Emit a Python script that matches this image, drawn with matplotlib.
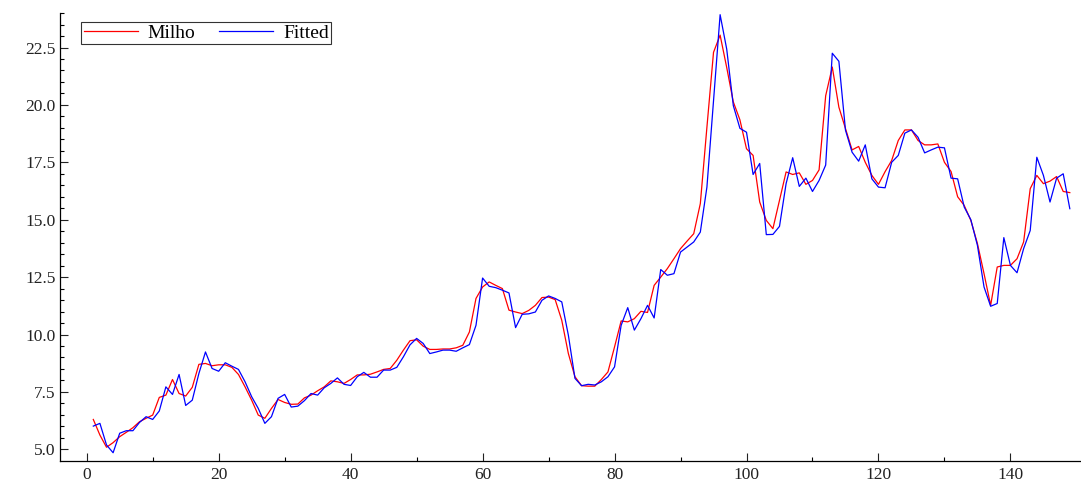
import matplotlib.pyplot as plt
import numpy as np

# observation index
t = np.arange(1, 150)

# observed series (red)
milho = [6.30, 5.62, 5.09, 5.29, 5.55, 5.74, 5.94, 6.20, 6.35, 6.49,
         7.26, 7.36, 8.04, 7.43, 7.32, 7.70, 8.70, 8.74, 8.64, 8.68,
         8.68, 8.57, 8.26, 7.72, 7.14, 6.49, 6.35, 6.78, 7.17, 7.04,
         6.96, 6.97, 7.24, 7.36, 7.55, 7.72, 7.98, 7.94, 7.87, 8.04,
         8.24, 8.24, 8.27, 8.37, 8.48, 8.52, 8.88, 9.32, 9.73, 9.77,
         9.49, 9.35, 9.35, 9.37, 9.37, 9.42, 9.53, 10.11, 11.57, 12.07,
         12.29, 12.14, 12.00, 11.06, 10.98, 10.91, 11.05, 11.27, 11.61, 11.63,
         11.52, 10.62, 9.17, 8.16, 7.77, 7.75, 7.75, 8.04, 8.37, 9.46,
         10.59, 10.55, 10.69, 11.01, 10.96, 12.14, 12.50, 12.87, 13.30, 13.74,
         14.07, 14.39, 15.70, 19.03, 22.29, 23.04, 21.63, 20.13, 19.35, 18.09,
         17.80, 15.77, 14.97, 14.61, 15.84, 17.08, 16.97, 17.04, 16.54, 16.71,
         17.17, 20.40, 21.65, 19.90, 18.97, 18.04, 18.19, 17.50, 16.93, 16.54,
         17.09, 17.58, 18.45, 18.91, 18.91, 18.45, 18.26, 18.26, 18.30, 17.50,
         17.10, 16.00, 15.62, 14.97, 13.96, 12.65, 11.27, 12.94, 13.01, 13.01,
         13.30, 14.03, 16.35, 16.93, 16.57, 16.68, 16.88, 16.23, 16.18]

# fitted values (blue)
fitted = [6.01, 6.13, 5.19, 4.85, 5.70, 5.81, 5.81, 6.17, 6.42, 6.30,
          6.67, 7.72, 7.39, 8.26, 6.91, 7.14, 8.30, 9.24, 8.52, 8.40,
          8.77, 8.62, 8.48, 7.94, 7.29, 6.78, 6.13, 6.42, 7.22, 7.39,
          6.84, 6.88, 7.12, 7.43, 7.36, 7.68, 7.87, 8.11, 7.83, 7.78,
          8.16, 8.35, 8.14, 8.14, 8.45, 8.45, 8.57, 9.03, 9.55, 9.83,
          9.61, 9.17, 9.24, 9.32, 9.32, 9.27, 9.42, 9.56, 10.40, 12.46,
          12.10, 12.04, 11.93, 11.81, 10.30, 10.88, 10.90, 10.98, 11.49, 11.68,
          11.57, 11.42, 9.97, 8.09, 7.77, 7.83, 7.80, 7.94, 8.16, 8.59,
          10.40, 11.17, 10.19, 10.69, 11.27, 10.72, 12.83, 12.58, 12.65, 13.59,
          13.81, 14.03, 14.46, 16.42, 20.19, 23.93, 22.43, 19.97, 18.98, 18.81,
          16.97, 17.45, 14.35, 14.36, 14.71, 16.57, 17.70, 16.45, 16.81, 16.23,
          16.71, 17.38, 22.25, 21.90, 18.90, 17.94, 17.55, 18.26, 16.78, 16.42,
          16.39, 17.50, 17.80, 18.77, 18.91, 18.59, 17.91, 18.04, 18.16, 18.13,
          16.81, 16.78, 15.55, 15.00, 13.88, 12.07, 11.23, 11.35, 14.22, 13.01,
          12.69, 13.74, 14.53, 17.72, 16.93, 15.77, 16.81, 17.00, 15.48]

plt.rcParams['font.family'] = ['Liberation Serif', 'DejaVu Serif']

fig = plt.figure(figsize=(10.81, 4.84), dpi=100)
ax = fig.add_axes([0.0558, 0.0475, 0.943, 0.9255])

ax.plot(t, milho, color='#ff0000', lw=0.9, label='Milho')
ax.plot(t, fitted, color='#0000ff', lw=0.9, label='Fitted')

ax.set_xlim(-4, 150.5)
ax.set_ylim(4.49, 24.0)
ax.set_xticks(np.arange(0, 141, 20))
ax.set_xticks(np.arange(0, 150, 10), minor=True)
ax.set_yticks(np.arange(5, 23, 2.5))
ax.set_yticks(np.arange(5, 24.01, 0.5), minor=True)
ax.set_yticklabels([f'{v:.1f}' for v in np.arange(5, 23, 2.5)])

ax.spines['top'].set_visible(False)
ax.spines['right'].set_visible(False)
for s in ['left', 'bottom']:
    ax.spines[s].set_linewidth(0.9)
ax.tick_params(which='major', direction='in', length=6, width=0.8, labelsize=12.5, colors='#222222')
ax.tick_params(which='minor', direction='in', length=3, width=0.8)
ax.tick_params(axis='x', pad=4)

leg = ax.legend(loc='upper left', bbox_to_anchor=(0.0205, 0.98), ncol=2, fontsize=14,
                frameon=True, fancybox=False, borderpad=0.12, handlelength=2.8,
                columnspacing=1.2, handletextpad=0.5, borderaxespad=0)
leg.get_frame().set_edgecolor('black')
leg.get_frame().set_linewidth(0.8)

fig.savefig('out.png', dpi=100)
